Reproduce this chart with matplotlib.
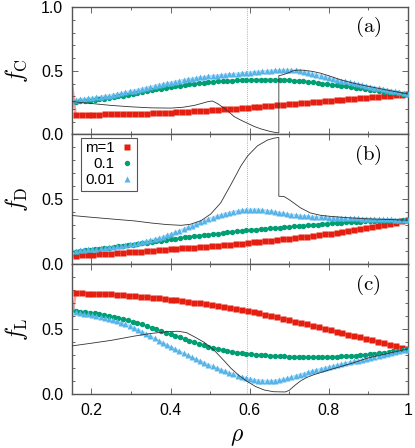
import numpy as np
import matplotlib
matplotlib.use("Agg")
import matplotlib.pyplot as plt
from matplotlib.ticker import MultipleLocator, FixedLocator, FixedFormatter
from matplotlib.lines import Line2D

plt.rcParams['font.family'] = ['Liberation Sans', 'DejaVu Sans']
plt.rcParams['mathtext.fontset'] = 'cm'

# ---------------- data ----------------
# sample positions (markers are evenly spaced in rho)
RHO_M1 = np.linspace(0.16, 1.0, 57)     # m = 1   (squares)
RHO_M01 = np.linspace(0.16, 1.0, 71)    # m = 0.1 (circles)
RHO_M001 = np.linspace(0.16, 1.0, 81)   # m = 0.01 (triangles)
RHO_EDGE = 0.15

LEGEND_LABELS = ["m=1", "0.1", "0.01"]
PANEL_LABELS = ["(a)", "(b)", "(c)"]
Y_LABELS = [r"$f_{\rm C}$", r"$f_{\rm D}$", r"$f_{\rm L}$"]
X_TICKS = [0.2, 0.4, 0.6, 0.8, 1.0]
X_TICK_LABELS = ["0.2", "0.4", "0.6", "0.8", "1"]
RHO_MARK = 0.593

# m = 1
RED_A = [0.155,0.155,0.156,0.156,0.156,0.157,0.157,0.158,0.159,0.160,
         0.161,0.162,0.164,0.166,0.168,0.170,0.172,0.174,0.177,0.179,
         0.182,0.185,0.187,0.190,0.193,0.196,0.199,0.202,0.205,0.209,
         0.212,0.216,0.220,0.224,0.228,0.232,0.236,0.240,0.244,0.249,
         0.253,0.257,0.261,0.265,0.269,0.273,0.277,0.281,0.285,0.289,
         0.293,0.296,0.300,0.304,0.307,0.311,0.315]
RED_B = [0.065,0.068,0.071,0.074,0.077,0.080,0.083,0.086,0.089,0.092,
         0.095,0.098,0.101,0.104,0.108,0.111,0.115,0.118,0.122,0.125,
         0.129,0.133,0.136,0.140,0.144,0.148,0.152,0.156,0.160,0.164,
         0.168,0.173,0.177,0.182,0.187,0.192,0.197,0.202,0.207,0.213,
         0.219,0.225,0.231,0.237,0.244,0.251,0.258,0.265,0.273,0.281,
         0.289,0.297,0.305,0.313,0.321,0.330,0.339]
RED_C = [0.777,0.776,0.775,0.774,0.772,0.770,0.768,0.765,0.762,0.759,
         0.756,0.752,0.748,0.744,0.739,0.734,0.729,0.724,0.718,0.712,
         0.706,0.700,0.693,0.686,0.679,0.672,0.664,0.656,0.648,0.640,
         0.631,0.622,0.612,0.602,0.592,0.581,0.570,0.559,0.548,0.537,
         0.526,0.515,0.504,0.493,0.482,0.471,0.460,0.449,0.438,0.427,
         0.416,0.404,0.393,0.382,0.371,0.359,0.348]

# m = 0.1
GREEN_A = [0.257,0.260,0.263,0.266,0.270,0.275,0.281,0.287,0.293,0.299,
           0.306,0.313,0.320,0.327,0.334,0.341,0.348,0.355,0.361,0.367,
           0.373,0.379,0.384,0.389,0.394,0.399,0.403,0.407,0.411,0.414,
           0.417,0.420,0.422,0.424,0.426,0.427,0.428,0.429,0.430,0.430,
           0.430,0.430,0.429,0.428,0.427,0.425,0.423,0.420,0.417,0.413,
           0.409,0.404,0.399,0.395,0.390,0.386,0.381,0.377,0.372,0.367,
           0.362,0.357,0.352,0.347,0.342,0.337,0.333,0.328,0.324,0.319,0.315]
GREEN_B = [0.098,0.102,0.107,0.111,0.116,0.120,0.125,0.129,0.134,0.138,
           0.143,0.147,0.152,0.156,0.161,0.166,0.171,0.176,0.181,0.187,
           0.192,0.197,0.202,0.207,0.212,0.217,0.221,0.225,0.229,0.233,
           0.237,0.241,0.245,0.249,0.253,0.257,0.261,0.264,0.267,0.270,
           0.273,0.276,0.279,0.282,0.285,0.288,0.291,0.294,0.297,0.300,
           0.303,0.306,0.309,0.312,0.315,0.318,0.320,0.322,0.324,0.326,
           0.328,0.330,0.331,0.332,0.333,0.334,0.335,0.336,0.337,0.338,0.339]
GREEN_C = [0.640,0.636,0.632,0.628,0.623,0.617,0.611,0.604,0.596,0.588,
           0.579,0.569,0.559,0.548,0.537,0.525,0.513,0.500,0.487,0.474,
           0.461,0.449,0.437,0.425,0.413,0.401,0.389,0.378,0.367,0.357,
           0.348,0.340,0.333,
           0.327,0.321,0.316,0.312,0.308,0.305,0.302,0.299,0.297,0.295,
           0.293,0.291,0.289,0.288,0.287,0.286,0.286,0.286,0.286,0.287,
           0.288,0.289,0.290,0.292,0.294,0.296,0.298,0.301,0.304,0.308,
           0.312,0.316,0.320,0.325,0.330,0.336,0.342,0.348]

# m = 0.01
BLUE_A = [0.272,0.276,0.280,0.283,0.287,0.291,0.296,0.301,0.306,0.312,
          0.318,0.324,0.331,0.338,0.345,0.352,0.359,0.366,0.373,0.380,
          0.388,0.395,0.402,0.408,0.415,0.421,0.427,0.433,0.438,0.443,
          0.448,0.452,0.456,0.460,0.463,0.466,0.469,0.472,0.475,0.478,
          0.481,0.484,0.487,0.490,0.493,0.496,0.499,0.501,0.503,0.505,
          0.506,0.507,0.506,0.504,0.499,0.493,0.486,0.478,0.470,0.462,
          0.454,0.446,0.438,0.431,0.424,0.417,0.410,0.403,0.396,0.389,
          0.382,0.376,0.369,0.363,0.357,0.351,0.345,0.339,0.333,0.327,0.321]
BLUE_B = [0.105,0.108,0.111,0.114,0.117,0.120,0.124,0.128,0.132,0.136,
          0.140,0.144,0.149,0.154,0.159,0.165,0.171,0.178,0.185,0.193,
          0.202,0.212,0.223,0.234,0.246,0.258,0.271,0.284,0.297,0.311,
          0.324,0.337,0.349,0.360,0.370,0.380,0.389,0.397,0.404,0.410,
          0.415,0.419,0.421,0.421,0.420,0.417,0.413,0.408,0.403,0.398,
          0.392,0.387,0.382,0.378,0.374,0.371,0.368,0.366,0.364,0.362,
          0.361,0.360,0.359,0.358,0.357,0.356,0.355,0.354,0.353,0.352,
          0.351,0.350,0.349,0.348,0.347,0.346,0.345,0.344,0.343,0.342,0.341]
BLUE_C = [0.630,0.625,0.620,0.615,0.610,0.604,0.597,0.590,0.582,0.573,
          0.563,0.552,0.540,0.526,0.511,0.496,0.480,0.464,0.447,0.430,
          0.413,0.396,0.379,0.362,0.346,0.330,0.314,0.299,0.284,0.269,
          0.255,0.241,0.227,0.214,0.201,0.189,0.177,0.165,0.154,0.143,
          0.133,0.124,0.117,0.111,0.106,0.103,0.102,0.102,0.104,0.108,
          0.114,0.122,0.131,0.141,0.151,0.160,0.169,0.178,0.186,0.194,
          0.202,0.210,0.217,0.224,0.232,0.239,0.246,0.253,0.260,0.267,
          0.274,0.281,0.288,0.295,0.302,0.309,0.316,0.323,0.330,0.337,0.343]

# first line point at the left edge (per panel a, b, c)
RED_EDGE = [0.42, 0.065, 0.58]
GREEN_EDGE = [0.257, 0.098, 0.645]
BLUE_EDGE = [0.20, 0.10, 0.70]

# reference curve (thin black line)
BLACK_A_X = [0.15,0.17,0.2,0.25,0.3,0.35,0.4,0.43,0.46,0.48,0.495,0.506,0.52,0.536,0.55,
             0.561,0.578,0.595,0.612,0.629,0.65,0.665,0.674,0.674,0.685,0.695,0.71,0.72,
             0.737,0.76,0.779,0.80,0.83,0.86,0.897,0.95,1.0]
BLACK_A = [0.26,0.252,0.243,0.228,0.217,0.209,0.207,0.213,0.228,0.245,0.258,0.263,0.24,0.205,0.17,
           0.14,0.112,0.087,0.062,0.043,0.025,0.015,0.012,0.462,0.47,0.481,0.50,0.506,
           0.505,0.495,0.482,0.462,0.43,0.405,0.38,0.348,0.318]
BLACK_B_X = [0.15,0.2,0.25,0.309,0.351,0.39,0.427,0.45,0.477,0.502,0.527,0.553,0.578,0.595,0.62,
             0.645,0.66,0.674,0.674,0.687,0.70,0.715,0.729,0.754,0.78,0.805,0.85,0.9,0.95,1.0]
BLACK_B = [0.376,0.362,0.349,0.334,0.318,0.306,0.300,0.308,0.336,0.388,0.473,0.615,0.757,0.834,0.912,
           0.956,0.970,0.977,0.524,0.522,0.498,0.465,0.434,0.395,0.377,0.369,0.358,0.350,0.345,0.340]
BLACK_C_X = [0.15,0.2,0.25,0.309,0.35,0.393,0.418,0.44,0.46,0.485,0.51,0.535,0.553,0.575,0.595,
             0.615,0.637,0.66,0.69,0.70,0.715,0.73,0.745,0.762,0.785,0.804,0.829,0.86,0.897,0.95,1.0]
BLACK_C = [0.372,0.393,0.415,0.448,0.468,0.482,0.485,0.475,0.443,0.40,0.34,0.26,0.20,0.14,0.097,
           0.06,0.033,0.02,0.018,0.03,0.07,0.105,0.13,0.15,0.172,0.19,0.212,0.24,0.277,0.315,0.348]

# ---------------- style ----------------
C_RED = "#e51e10"
C_GREEN = "#009e73"
C_BLUE = "#56b4e9"
C_FRAME = "#555555"

W, H = 415, 448
fig = plt.figure(figsize=(W / 100, H / 100), dpi=100)
left_px, right_px = 71.7, 407.7
tops = [7.3, 134.4, 264.3]
bots = [134.4, 264.3, 394.3]

reds = [RED_A, RED_B, RED_C]
greens = [GREEN_A, GREEN_B, GREEN_C]
blues = [BLUE_A, BLUE_B, BLUE_C]
blacks = [(BLACK_A_X, BLACK_A), (BLACK_B_X, BLACK_B), (BLACK_C_X, BLACK_C)]

axes = []
for i in range(3):
    t, b = tops[i], bots[i]
    ax = fig.add_axes([left_px / W, 1 - b / H, (right_px - left_px) / W, (b - t) / H])
    axes.append(ax)

    ax.axvline(RHO_MARK, color="#999999", ls=(0, (1, 1.5)), lw=0.6, zorder=1)

    for rho, vals, edge, col, mk, ms in [
        (RHO_M1, reds[i], RED_EDGE[i], C_RED, "s", 3.7),
        (RHO_M01, greens[i], GREEN_EDGE[i], C_GREEN, "o", 3.9),
        (RHO_M001, blues[i], BLUE_EDGE[i], C_BLUE, "^", 4.3),
    ]:
        ax.plot(np.concatenate([[RHO_EDGE], rho]), np.concatenate([[edge], vals]),
                color=col, lw=1.8, alpha=0.4, zorder=2, solid_joinstyle="round")
        ax.plot(rho, vals, ls="none", marker=mk, ms=ms, color=col, mec="none",
                zorder=3)

    bx, by = blacks[i]
    ax.plot(bx, by, color="#333333", lw=0.6, zorder=4)

    ax.set_xlim(0.15, 1.0)
    ax.set_ylim(0.0, 1.0)
    ax.xaxis.set_major_locator(FixedLocator(X_TICKS))
    ax.xaxis.set_minor_locator(MultipleLocator(0.1))
    ax.yaxis.set_major_locator(FixedLocator([0.0, 0.5, 1.0]))
    ax.yaxis.set_minor_locator(MultipleLocator(0.1))
    if i == 0:
        ax.yaxis.set_major_formatter(FixedFormatter(["0.0", "0.5", "1.0"]))
    else:
        ax.yaxis.set_major_formatter(FixedFormatter(["0.0", "0.5", ""]))
    if i == 2:
        ax.xaxis.set_major_formatter(FixedFormatter(X_TICK_LABELS))
    else:
        ax.tick_params(axis="x", labelbottom=False)

    ax.tick_params(which="both", direction="in", top=True, right=True,
                   color="#666666", labelsize=11.4, width=0.7)
    ax.tick_params(which="major", length=4, pad=6)
    ax.tick_params(which="minor", length=2.5)
    for s in ax.spines.values():
        s.set_color(C_FRAME)
        s.set_linewidth(1.0)

    # y label (rotated), centred on the panel
    fig.text(16 / W, 1 - (t + b) / 2 / H, Y_LABELS[i], fontsize=17,
             rotation=90, ha="center", va="center")
    ax.text(0.882, 0.843, r"$\mathrm{" + PANEL_LABELS[i] + "}$",
            transform=ax.transAxes, fontsize=15, ha="center", va="center")

# x label
fig.text(237 / W, 1 - 437 / H, r"$\rho$", fontsize=17, ha="center", va="center")

# legend in panel (b)
handles = [
    Line2D([], [], ls="none", marker="s", ms=3.7, color=C_RED, mec="none"),
    Line2D([], [], ls="none", marker="o", ms=3.9, color=C_GREEN, mec="none"),
    Line2D([], [], ls="none", marker="^", ms=4.3, color=C_BLUE, mec="none"),
]
leg = axes[1].legend(handles, LEGEND_LABELS, loc="upper left",
                     bbox_to_anchor=(0.028, 0.975), markerfirst=False,
                     handlelength=0.8, handletextpad=0.45, borderpad=0.25,
                     labelspacing=0.12, borderaxespad=0.0, fontsize=10.8,
                     fancybox=False, framealpha=1.0, edgecolor="#555555")
leg.get_frame().set_linewidth(0.8)
leg._legend_box.align = "right"

fig.savefig("out.png", dpi=100)
